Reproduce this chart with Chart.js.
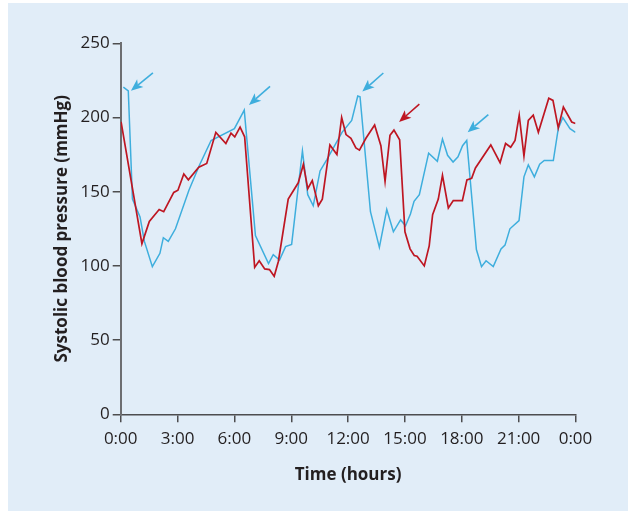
<!DOCTYPE html>
<html>
<head>
<meta charset="utf-8">
<script src="https://cdn.jsdelivr.net/npm/chart.js@4.4.1/dist/chart.umd.min.js"></script>
<style>
  html, body { margin:0; padding:0; background:#ffffff; }
  #panel { position:absolute; left:8px; top:3px; width:620px; height:508px; background:#e1edf8; }
  #wrap { position:absolute; left:0; top:0; width:631px; height:513px; }
</style>
</head>
<body>
<div id="panel"></div>
<div id="wrap"><canvas id="c" width="631" height="513"></canvas></div>
<script>
// ---- data (hours since midnight, systolic pressure in mmHg) ----
const redHours = [0.02,1.12,1.51,2.03,2.27,2.80,3.02,3.33,3.57,4.12,4.54,5.02,5.55,5.82,6.02,6.30,6.54,7.07,7.31,7.60,7.85,8.10,8.32,8.84,9.37,9.64,9.87,10.11,10.43,10.64,11.04,11.41,11.66,11.89,12.15,12.41,12.60,12.94,13.40,13.73,13.95,14.21,14.42,14.72,15.00,15.27,15.49,15.64,16.02,16.28,16.46,16.76,16.98,17.29,17.55,18.03,18.27,18.52,18.72,19.53,20.02,20.31,20.58,20.81,21.03,21.28,21.51,21.77,22.04,22.59,22.81,23.09,23.36,23.80,24.00];
const redValues = [197,115,130,138,136.5,149.5,151,162,158,166.5,169,190,182.5,189.5,187,193.5,187,99,103.5,98,97.5,93,103,145,156,168.5,152,157.5,140.5,145,181.5,175,200,188.5,186,179.5,178,186,195,181,157,188,191.5,185,123,111.5,107,106.5,100,113.5,134.5,145,161,139,144,144,158,159,166,181.5,169.5,182.5,180,184.5,201.5,174,198,201.5,190,213,211.5,193,207,197,196];

const blueHours = [0.14,0.40,0.62,1.02,1.25,1.67,2.07,2.25,2.51,2.89,3.60,4.16,4.77,6.00,6.52,7.11,7.80,8.05,8.38,8.70,9.02,9.59,9.87,10.16,10.52,10.87,11.68,12.19,12.51,12.63,13.18,13.65,14.04,14.39,14.77,15.03,15.29,15.48,15.76,16.25,16.71,16.98,17.25,17.54,17.80,18.04,18.26,18.77,19.04,19.28,19.66,20.07,20.28,20.54,21.02,21.28,21.51,21.83,22.11,22.35,22.83,23.09,23.33,23.71,24.00];
const blueValues = [220.5,218,145,133,116.5,99.5,108.5,119,116.5,125,151,168,184.5,192.5,205,120.5,101.5,107.5,104,113,114.5,177.5,148,140.5,164,171.5,190,198,214.5,214,136.5,112.5,138,123,131,127,135,143.5,148,176,170.5,185.5,174.5,170,173.5,181,184.5,111,99.5,103.5,99.5,111.5,114,125,130.5,160,168,160,168.5,171,171,192.5,200,192.5,190];

const xTickLabels = ['0:00','3:00','6:00','9:00','12:00','15:00','18:00','21:00','0:00'];
const yTicks = [0,50,100,150,200,250];

// annotation arrows: [tailHour, tailValue, headHour, headValue]
const arrowTails = [[1.70,230],[7.88,221],[13.86,230],[15.76,209],[19.40,202]];
const arrowHeads = [[0.54,218],[6.77,208.5],[12.75,217.5],[14.69,197],[18.31,190]];
const arrowColors = ['#3eaedd','#3eaedd','#3eaedd','#be1622','#3eaedd'];

const RED = '#be1622';
const BLUE = '#3eaedd';

const arrowPlugin = {
  id: 'arrows',
  afterDatasetsDraw(chart) {
    const {ctx, scales:{x, y}} = chart;
    ctx.save();
    for (let i = 0; i < arrowTails.length; i++) {
      const tx = x.getPixelForValue(arrowTails[i][0]);
      const ty = y.getPixelForValue(arrowTails[i][1]);
      const hx = x.getPixelForValue(arrowHeads[i][0]);
      const hy = y.getPixelForValue(arrowHeads[i][1]);
      const ang = Math.atan2(hy - ty, hx - tx);
      const L = 12, W = 5;
      const bx = hx - L * Math.cos(ang), by = hy - L * Math.sin(ang);
      ctx.strokeStyle = arrowColors[i];
      ctx.fillStyle = arrowColors[i];
      ctx.lineWidth = 1.6;
      ctx.beginPath();
      ctx.moveTo(tx, ty);
      ctx.lineTo(bx + 3 * Math.cos(ang), by + 3 * Math.sin(ang));
      ctx.stroke();
      ctx.beginPath();
      ctx.moveTo(hx, hy);
      ctx.lineTo(bx + W * Math.sin(ang), by - W * Math.cos(ang));
      ctx.lineTo(bx + 3 * Math.cos(ang), by + 3 * Math.sin(ang));
      ctx.lineTo(bx - W * Math.sin(ang), by + W * Math.cos(ang));
      ctx.closePath();
      ctx.fill();
    }
    ctx.restore();
  }
};

const toXY = (hs, vs) => hs.map((h, i) => ({x: h, y: vs[i]}));

new Chart(document.getElementById('c'), {
  type: 'line',
  data: {
    datasets: [
      { label: 'Red', data: toXY(redHours, redValues), borderColor: RED, borderWidth: 1.7, pointRadius: 0, tension: 0, fill: false },
      { label: 'Blue', data: toXY(blueHours, blueValues), borderColor: BLUE, borderWidth: 1.5, pointRadius: 0, tension: 0, fill: false }
    ]
  },
  options: {
    responsive: false,
    animation: false,
    layout: { padding: { left: 0, right: 55.5, top: 43.3, bottom: 0 } },
    plugins: { legend: { display: false }, tooltip: { enabled: false } },
    scales: {
      x: {
        type: 'linear', min: 0, max: 24,
        afterFit(scale) { scale.height = 98.7; },
        afterBuildTicks(scale) { scale.ticks = xTickLabels.map((_, i) => ({value: i * 3})); },
        ticks: {
          autoSkip: false, maxRotation: 0, padding: 7,
          color: '#231f20', font: { family: 'Open Sans', size: 17 },
          callback: (v, i) => xTickLabels[i]
        },
        grid: { display: true, drawOnChartArea: false, drawTicks: true, tickLength: 8, color: '#4d4d4f', lineWidth: 1.5 },
        border: { display: true, color: '#4d4d4f', width: 1.5 },
        title: { display: true, text: 'Time (hours)', color: '#231f20', font: { family: 'Open Sans', size: 17, weight: 'bold' }, padding: { top: 0, bottom: 28 } }
      },
      y: {
        min: 0, max: 250,
        afterFit(scale) { scale.width = 120.7; },
        afterBuildTicks(scale) { scale.ticks = yTicks.map(v => ({value: v})); },
        ticks: { padding: 3, color: '#231f20', font: { family: 'Open Sans', size: 17 } },
        grid: { display: true, drawOnChartArea: false, drawTicks: true, tickLength: 8, color: '#4d4d4f', lineWidth: 1.5 },
        border: { display: true, color: '#6d6e71', width: 2 },
        title: { display: true, text: 'Systolic blood pressure (mmHg)', color: '#231f20', font: { family: 'Open Sans', size: 17, weight: 'bold' }, padding: { top: 52, bottom: 0 } }
      }
    }
  },
  plugins: [arrowPlugin]
});
</script>
</body>
</html>
